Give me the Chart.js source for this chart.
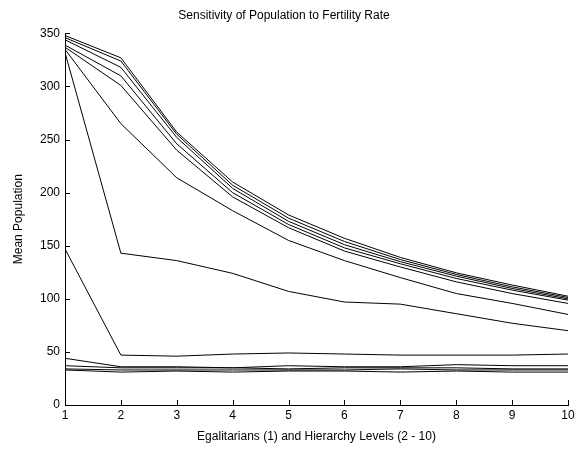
<!DOCTYPE html>
<html>
<head>
<meta charset="utf-8">
<title>Sensitivity of Population to Fertility Rate</title>
<script src="https://cdn.jsdelivr.net/npm/chart.js@4.4.1/dist/chart.umd.min.js"></script>
<style>
  html, body { margin: 0; padding: 0; background: #fff; }
  canvas { display: block; }
</style>
</head>
<body>
<canvas id="popChart" width="578" height="449"></canvas>
<script>
  // x positions: 1 = egalitarian, 2..10 = hierarchy levels
  const levels = [1, 2, 3, 4, 5, 6, 7, 8, 9, 10];
  const yTicks = [0, 50, 100, 150, 200, 250, 300, 350];

  // mean population per fertility rate setting
  const rate01 = [348, 327, 257, 210, 179, 157, 139, 124.5, 113, 102.5];
  const rate02 = [346, 324, 255, 207, 176, 154, 137, 123, 111.3, 101.3];
  const rate03 = [344, 318, 252, 204, 173, 151, 135, 121.4, 109.8, 100];
  const rate04 = [339, 310, 246, 200, 170, 148, 133, 119.2, 108.2, 98.8];
  const rate05 = [337, 301, 240, 196, 167, 145, 130, 116, 105, 95.7];
  const rate06 = [335, 265, 214, 183, 155, 136, 120, 105, 95.7, 85.3];
  const rate07 = [332, 143, 136, 124, 107, 97, 95, 86, 77, 70];
  const rate08 = [147, 47, 46, 48, 49, 48, 47, 47, 47, 48];
  const rate09 = [44, 36, 36, 35, 37, 36, 36, 38, 37, 37];
  const rate10 = [37, 35, 35, 35, 34, 35, 35, 35, 34, 34];
  const rate11 = [34, 33, 33, 33, 33, 33, 34, 33, 33, 33];
  const rate12 = [33, 31, 32, 31, 32, 32, 31, 32, 31, 31];

  const allRates = [rate01, rate02, rate03, rate04, rate05, rate06,
                    rate07, rate08, rate09, rate10, rate11, rate12];

  const datasets = allRates.map((vals, i) => ({
    label: 'rate ' + (i + 1),
    data: levels.map((x, j) => ({ x: x, y: vals[j] })),
    borderColor: '#000',
    borderWidth: 1,
    pointRadius: 0,
    tension: 0,
    fill: false,
  }));

  // tick marks drawn inside the axes
  const inwardTicks = {
    id: 'inwardTicks',
    afterDatasetsDraw(chart) {
      const { ctx, chartArea, scales } = chart;
      ctx.save();
      ctx.strokeStyle = '#000';
      ctx.lineWidth = 1;
      ctx.beginPath();
      levels.forEach((v) => {
        const px = Math.round(scales.x.getPixelForValue(v)) + 0.5;
        ctx.moveTo(px, chartArea.bottom);
        ctx.lineTo(px, chartArea.bottom - 5);
      });
      yTicks.forEach((v) => {
        const py = Math.round(scales.y.getPixelForValue(v)) + 0.5;
        ctx.moveTo(chartArea.left, py);
        ctx.lineTo(chartArea.left + 5, py);
      });
      ctx.stroke();
      ctx.restore();
    },
  };

  const font = { family: 'Liberation Sans, Arial, sans-serif', size: 12 };

  new Chart(document.getElementById('popChart'), {
    type: 'line',
    data: { datasets },
    plugins: [inwardTicks],
    options: {
      responsive: false,
      animation: false,
      layout: { padding: { left: 0, right: 10, top: 0, bottom: 0 } },
      plugins: {
        legend: { display: false },
        tooltip: { enabled: false },
        title: {
          display: true,
          text: 'Sensitivity of Population to Fertility Rate',
          color: '#000',
          font: { ...font, weight: 'normal' },
          padding: { top: 8, bottom: 11 },
        },
      },
      scales: {
        x: {
          type: 'linear',
          min: 1,
          max: 10,
          afterFit: (scale) => { scale.height = 44; },
          afterBuildTicks: (scale) => { scale.ticks = levels.map((v) => ({ value: v })); },
          ticks: { color: '#000', font, padding: 3, maxRotation: 0 },
          grid: { display: true, drawOnChartArea: false, drawTicks: false },
          border: { display: true, color: '#000', width: 1 },
          title: {
            display: true,
            text: 'Egalitarians (1) and Hierarchy Levels (2 - 10)',
            color: '#000',
            font,
            padding: { top: 0, bottom: 5 },
          },
        },
        y: {
          min: 0,
          max: 350,
          afterFit: (scale) => { scale.width = 65; },
          afterBuildTicks: (scale) => { scale.ticks = yTicks.map((v) => ({ value: v })); },
          ticks: { color: '#000', font, padding: 5 },
          grid: { display: true, drawOnChartArea: false, drawTicks: false },
          border: { display: true, color: '#000', width: 1 },
          title: {
            display: true,
            text: 'Mean Population',
            color: '#000',
            font,
            padding: { top: 11, bottom: 0 },
          },
        },
      },
    },
  });
</script>
</body>
</html>
